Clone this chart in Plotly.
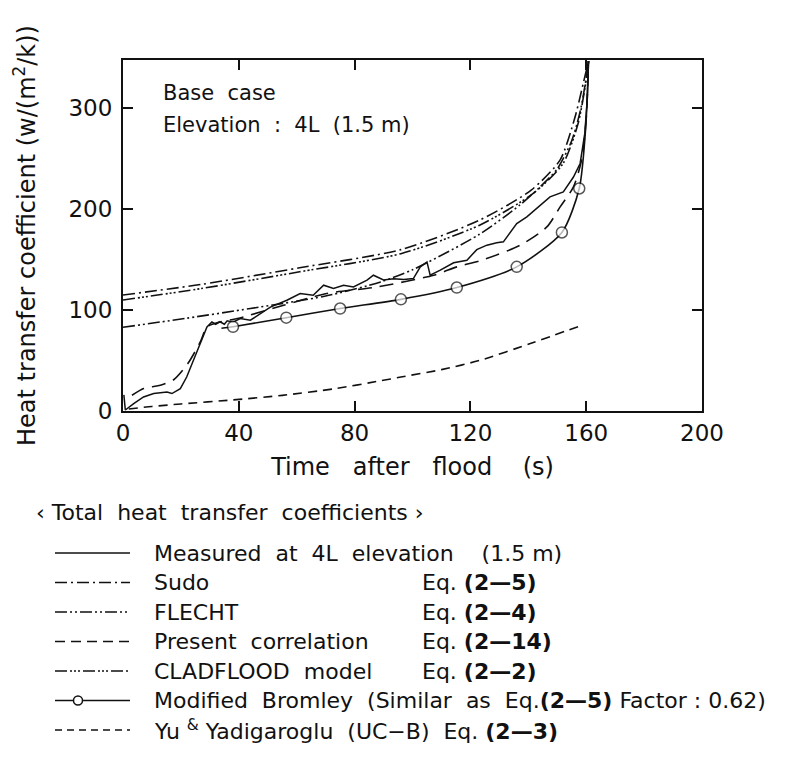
import plotly.graph_objects as go

# ---------------- data ----------------
sudo_t = [0, 27, 61, 96, 123, 141, 151, 156, 159, 160.8]
sudo_h = [115, 125.5, 142, 160, 189, 219, 249, 290, 325, 347]

cladflood_t = [0, 27, 61, 96, 123, 141.7, 152, 157.2, 159.6, 160.8]
cladflood_h = [110, 121.4, 138, 156, 184, 215.7, 245.4, 285, 321, 347]

flecht_t = [0, 22, 44, 70, 89, 100, 123, 137, 144, 150, 155, 158, 160, 160.8]
flecht_h = [83, 92, 101.6, 114, 128, 140, 175, 204, 222, 240, 268, 298, 330, 347]

measured_t = [0.3, 0.8, 3.7, 7.1, 10.6, 15.2, 16.9, 19.8, 22, 24.4, 27, 29, 30.7, 32, 33.5,
              35, 36, 38, 40.5, 44, 50.9, 56.6, 61.2, 65.7, 69.3, 72.7, 76.2, 79.6, 84.3,
              86.5, 90, 93.5, 97, 100.3, 102.7, 105, 106.1, 109.6, 114.2, 118.8, 122.2,
              125.7, 129.1, 131.4, 136, 139.5, 147.5, 152.1, 155.6, 157.9, 159.5, 160.4, 160.8]
measured_h = [16, 1, 7.3, 13.9, 17.3, 18.9, 17.3, 22.2, 33.7, 50.3, 68, 83.3, 88.3, 86, 88.5,
              86, 89.5, 88, 91.6, 90, 103, 109.8, 116.5, 114.8, 124.7, 121.4, 124.7, 123, 129.7,
              134.6, 130, 131, 130.4, 131.3, 142.9, 147.8, 134.6, 139.6, 147, 149.5, 160,
              164.4, 166.7, 167.7, 185.9, 192.5, 212.3, 217.3, 232, 245.4, 275, 310, 347]

present_t = [3.1, 7.1, 9.4, 12.9, 17.5, 22.4, 26.7, 29, 33, 40, 55.5, 70.4, 87.7, 107.3,
             115.3, 124.5, 137.2, 146.4, 151, 155.6, 158.5, 160, 160.8]
present_h = [15.6, 22.2, 23.8, 25.5, 31, 47, 68.5, 83.3, 88, 92, 104.9, 116.5, 123, 134.6,
             142.9, 150, 164.4, 182.5, 202.4, 222.2, 250, 290, 347]

bromley_t = [34, 38, 56.4, 75, 96, 115.3, 136, 151.6, 157.6, 159.8, 160.8]
bromley_h = [82, 83.5, 92.5, 101.6, 110.7, 122.4, 142.9, 177, 220.6, 280, 347]
bromley_marker = [0, 1, 1, 1, 1, 1, 1, 1, 1, 0, 0]

yu_t = [2, 10, 20, 38, 55, 73, 89, 96, 110, 123.4, 140.7, 158.5]
yu_h = [2, 4.5, 7, 11, 15.5, 22, 30, 33.7, 41, 50.3, 66.9, 85]

x_ticks = [0, 40, 80, 120, 160, 200]
y_ticks = [0, 100, 200, 300]

legend_names = ["Measured  at  4L  elevation    (1.5 m)", "Sudo", "FLECHT",
                "Present  correlation", "CLADFLOOD  model",
                "Modified  Bromley  (Similar  as  Eq.<b>(2\u20145)</b> Factor : 0.62)",
                "Yu <sup>&amp;</sup> Yadigaroglu  (UC\u2212B)  Eq. <b>(2\u20143)</b>"]
legend_eqs = ["", "Eq. <b>(2\u20145)</b>", "Eq. <b>(2\u20144)</b>", "Eq. <b>(2\u201414)</b>",
              "Eq. <b>(2\u20142)</b>", "", ""]
legend_dash = ["solid", "12px,4px,2px,4px", "12px,3px,2px,3px,2px,3px", "10px,6px",
               "12px,3px,2px,2px,2px,2px,2px,3px", "solid", "7px,5px"]

# ---------------- figure ----------------
FONT = "DejaVu Sans, Noto Sans, sans-serif"
INK = "#111111"
W, H = 795, 762
L, R, T, B = 123, 93, 60, 351
PW, PH = W - L - R, H - T - B

def px(xp):
    return (xp - L) / PW

def py(yp):
    return (H - B - yp) / PH

def sp(s):
    return s.replace("  ", "\u00a0 ")

fig = go.Figure()

def add(t, h, dash, shape="linear", width=1.6, mode="lines", **kw):
    fig.add_trace(go.Scatter(x=t, y=h, mode=mode, line=dict(color=INK, width=width, dash=dash,
                                                             shape=shape, smoothing=0.7),
                             showlegend=False, hoverinfo="skip", **kw))

add(sudo_t, sudo_h, legend_dash[1], "spline")
add(cladflood_t, cladflood_h, legend_dash[4], "spline")
add(flecht_t, flecht_h, legend_dash[2], "spline")
add(present_t, present_h, "14px,8px", "spline")
add(yu_t, yu_h, "9px,6px", "spline")
add(measured_t, measured_h, "solid", "linear", width=1.5)
add(bromley_t, bromley_h, "solid", "spline", mode="lines+markers",
    marker=dict(size=[11 * m for m in bromley_marker], symbol="circle",
                color="white", line=dict(color=INK, width=1.5)))

axis_common = dict(showline=True, linecolor=INK, linewidth=2, mirror="ticks",
                   ticks="inside", ticklen=10, tickwidth=1.5, tickcolor=INK,
                   showgrid=False, zeroline=False,
                   tickfont=dict(family=FONT, size=23, color=INK))

fig.update_xaxes(range=[0, 200], tickvals=x_ticks, ticktext=[str(v) for v in x_ticks],
                 title=dict(text=sp("Time   after   flood    (s)"),
                            font=dict(family=FONT, size=24, color=INK), standoff=14),
                 **axis_common)
fig.update_yaxes(range=[0, 348], tickvals=y_ticks, ticktext=[str(v) for v in y_ticks],
                 title=dict(text="Heat transfer coefficient (w/(m<sup>2</sup>/k))",
                            font=dict(family=FONT, size=24, color=INK), standoff=26),
                 ticklabelstandoff=4, **axis_common)

ann = []
ann.append(dict(x=13, y=315, xref="x", yref="y", text=sp("Base  case"), showarrow=False,
                xanchor="left", yanchor="middle", font=dict(family=FONT, size=21, color=INK)))
ann.append(dict(x=13, y=284, xref="x", yref="y", text=sp("Elevation  :  4L  (1.5 m)"),
                showarrow=False, xanchor="left", yanchor="middle",
                font=dict(family=FONT, size=21, color=INK)))

# custom legend below the plot
ann.append(dict(x=px(34), y=py(512), xref="paper", yref="paper",
                text=sp("\u2039 Total  heat  transfer  coefficients \u203a"),
                showarrow=False, xanchor="left", yanchor="middle",
                font=dict(family=FONT, size=22, color=INK)))
shapes = []
row_y = [553 + 29.5 * i for i in range(7)]
for i, name in enumerate(legend_names):
    yy = py(row_y[i])
    shapes.append(dict(type="line", xref="paper", yref="paper", x0=px(55), x1=px(130),
                       y0=yy, y1=yy, line=dict(color=INK, width=1.5, dash=legend_dash[i])))
    ann.append(dict(x=px(152), y=yy, xref="paper", yref="paper",
                    text=sp(name), showarrow=False,
                    xanchor="left", yanchor="middle", font=dict(family=FONT, size=22, color=INK)))
    if legend_eqs[i]:
        ann.append(dict(x=px(420), y=yy, xref="paper", yref="paper", text=legend_eqs[i],
                        showarrow=False, xanchor="left", yanchor="middle",
                        font=dict(family=FONT, size=22, color=INK)))
# circle marker of the Bromley sample
shapes.append(dict(type="circle", xref="paper", yref="paper", xsizemode="pixel",
                   ysizemode="pixel", xanchor=px(78), yanchor=py(row_y[5]),
                   x0=-4.5, x1=4.5, y0=-4.5, y1=4.5,
                   line=dict(color=INK, width=1.5), fillcolor="white"))

fig.update_layout(width=W, height=H, margin=dict(l=L, r=R, t=T, b=B, autoexpand=False),
                  paper_bgcolor="white", plot_bgcolor="white",
                  annotations=ann, shapes=shapes, showlegend=False)

fig.write_html("out.html")
